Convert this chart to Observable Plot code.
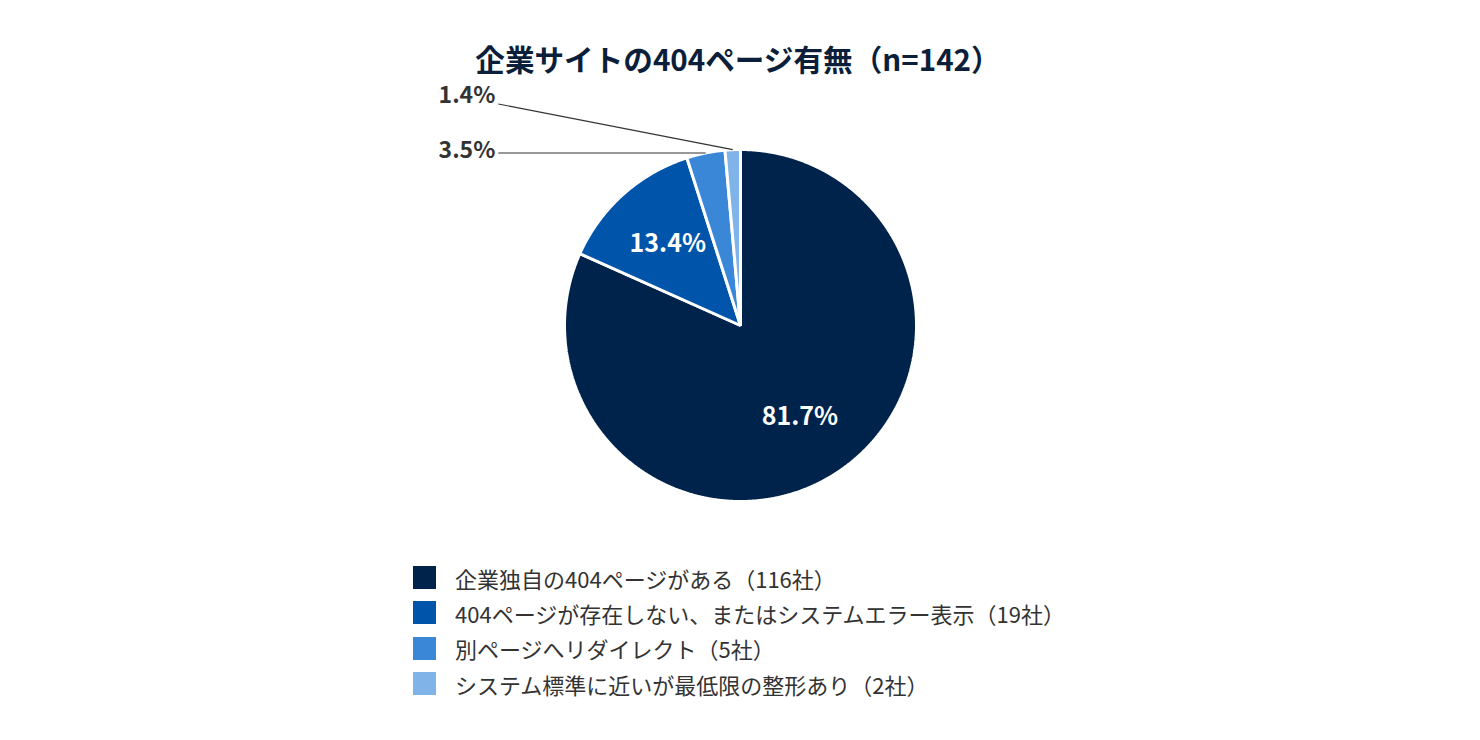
<!DOCTYPE html>
<html lang="ja">
<head>
<meta charset="utf-8">
<script src="https://cdn.jsdelivr.net/npm/d3@7"></script>
<script src="https://cdn.jsdelivr.net/npm/@observablehq/plot@0.6"></script>
<style>
  html, body { margin: 0; padding: 0; background: #fff; }
  body { position: relative; width: 1480px; height: 740px; overflow: hidden; font-family: "Noto Sans CJK JP", "Noto Sans", sans-serif; }
  .title { position: absolute; left: 0; top: 44px; width: 1476px; text-align: center; font-size: 29.6px; line-height: 1; font-weight: 700; color: #0b1f3a; white-space: nowrap; }
  #chart { margin-top: 60px; }
  #chart svg { display: block; }
  .legend { padding-top: 20px; margin-left: 413px; }
  .row { display: flex; align-items: center; height: 35.3px; }
  .sw { width: 23px; height: 23px; margin-right: 19px; flex: none; }
  .lab { font-size: 22px; color: #333; line-height: 1; white-space: nowrap; }
</style>
</head>
<body>
<div id="chart"></div>
<div class="legend" id="legend"></div>
<div class="title" id="title"></div>
<script>
// ---- data ----
const titleText = "企業サイトの404ページ有無（n=142）";
const categories = [
  "企業独自の404ページがある",
  "404ページが存在しない、またはシステムエラー表示",
  "別ページへリダイレクト",
  "システム標準に近いが最低限の整形あり"
];
const counts = [116, 19, 5, 2];
const total = 142;
const colors = ["#00234b", "#0054aa", "#3a87d7", "#80b4e8"];

// ---- layout constants ----
const W = 1480, H = 480;
const CX = 740, CY = 265, R = 176;
const labelRadius = 0.62;
const calloutThreshold = 0.05;
const calloutLabelX = -1.376;
const calloutLineSpacing = 49 / R;
const calloutTextSpacing = 55 / R;

document.getElementById("title").textContent = titleText;

const data = categories.map((c, i) => ({key: c, count: counts[i], pct: (counts[i] / total * 100).toFixed(1) + "%"}));
const arcs = d3.pie().sort(null).value(d => d.count)(data);

// slice polygons (unit radius, y pointing down)
const slicePts = [];
for (const a of arcs) {
  slicePts.push({key: a.data.key, x: 0, y: 0});
  const n = Math.max(2, Math.ceil((a.endAngle - a.startAngle) / (Math.PI / 720)));
  for (let k = 0; k <= n; k++) {
    const t = a.startAngle + (a.endAngle - a.startAngle) * k / n;
    slicePts.push({key: a.data.key, x: Math.sin(t), y: -Math.cos(t)});
  }
}

const inside = [], outside = [];
for (const a of arcs) {
  const m = (a.startAngle + a.endAngle) / 2;
  const share = a.data.count / total;
  if (share >= calloutThreshold) {
    inside.push({text: a.data.pct, x: labelRadius * Math.sin(m), y: -labelRadius * Math.cos(m)});
  } else {
    outside.push({text: a.data.pct, ax: Math.sin(m), ay: -Math.cos(m)});
  }
}
// stack callouts upward starting from the first small slice's arc height
if (outside.length) {
  const baseY = outside[0].ay;
  outside.forEach((o, k) => {
    o.lx = calloutLabelX;
    o.ly = baseY - k * calloutLineSpacing;
    o.ty = baseY - k * calloutTextSpacing;
  });
}

const plot = Plot.plot({
  width: W, height: H, margin: 0,
  x: {domain: [-CX / R, (W - CX) / R], range: [0, W], axis: null},
  y: {domain: [-CY / R, (H - CY) / R], range: [0, H], axis: null},
  color: {domain: categories, range: colors},
  style: {fontFamily: "'Noto Sans CJK JP', 'Noto Sans', sans-serif", background: "transparent"},
  marks: [
    Plot.line(slicePts, {x: "x", y: "y", z: "key", fill: "key", stroke: "white", strokeWidth: 3, strokeLinejoin: "miter", curve: "linear-closed"}),
    Plot.text(inside, {x: "x", y: "y", text: "text", fill: "white", fontSize: 25, fontWeight: "bold"}),
    Plot.link(outside, {x1: "lx", y1: "ly", x2: "ax", y2: "ay", stroke: "#333", strokeWidth: 1.2}),
    Plot.text(outside, {x: "lx", y: "ty", text: "text", textAnchor: "end", dx: -3, dy: -2, fill: "#333", fontSize: 23, fontWeight: "bold"})
  ]
});
document.getElementById("chart").appendChild(plot);

const legend = document.getElementById("legend");
data.forEach((d, i) => {
  const row = document.createElement("div");
  row.className = "row";
  const sw = document.createElement("div");
  sw.className = "sw";
  sw.style.background = colors[i];
  const lab = document.createElement("div");
  lab.className = "lab";
  lab.textContent = `${d.key}（${d.count}社）`;
  row.appendChild(sw);
  row.appendChild(lab);
  legend.appendChild(row);
});
</script>
</body>
</html>
